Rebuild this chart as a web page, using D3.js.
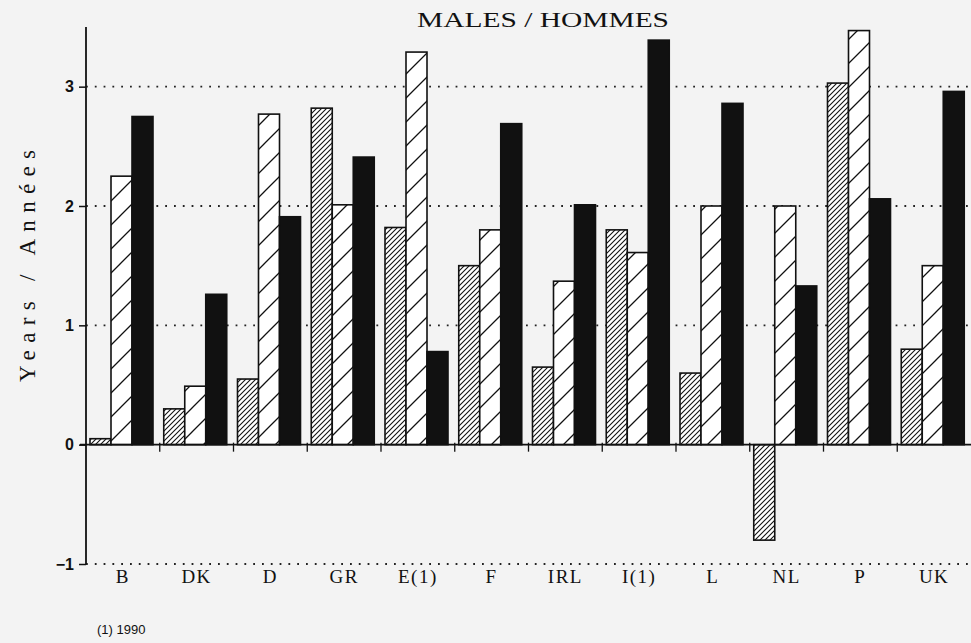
<!DOCTYPE html>
<html>
<head>
<meta charset="utf-8">
<script src="https://cdnjs.cloudflare.com/ajax/libs/d3/7.8.5/d3.min.js"></script>
<style>
  body { margin: 0; background: #f3f3f3; }
  svg { display: block; }
</style>
</head>
<body>
<div id="chart"></div>
<script>
var countries = ['B', 'DK', 'D', 'GR', 'E(1)', 'F', 'IRL', 'I(1)', 'L', 'NL', 'P', 'UK'];
var seriesDense = [0.05, 0.3, 0.55, 2.82, 1.82, 1.5, 0.65, 1.8, 0.6, -0.8, 3.03, 0.8];
var seriesSparse = [2.25, 0.49, 2.77, 2.01, 3.29, 1.8, 1.37, 1.61, 2.0, 2.0, 3.47, 1.5];
var seriesBlack = [2.75, 1.26, 1.91, 2.41, 0.78, 2.69, 2.01, 3.39, 2.86, 1.33, 2.06, 2.96];
var yTicks = [-1, 0, 1, 2, 3];

var chart_width = 971;
var chart_height = 643;
var font = '"Liberation Serif", "DejaVu Serif", serif';

var svg = d3.select('#chart')
  .append('svg')
  .attr('width', chart_width)
  .attr('height', chart_height);

// hatch patterns
var defs = svg.append('defs');
defs.append('pattern')
  .attr('id', 'dense')
  .attr('patternUnits', 'userSpaceOnUse')
  .attr('width', 5).attr('height', 5)
  .append('path')
  .attr('d', 'M-1,1 l2,-2 M0,5 l5,-5 M4,6 l2,-2')
  .attr('stroke', '#111').attr('stroke-width', 1.1);
defs.append('pattern')
  .attr('id', 'sparse')
  .attr('patternUnits', 'userSpaceOnUse')
  .attr('width', 24).attr('height', 24)
  .append('path')
  .attr('d', 'M-2,2 l4,-4 M0,24 l24,-24 M22,26 l4,-4')
  .attr('stroke', '#111').attr('stroke-width', 1.3);

// Scales
var xScale = d3.scaleBand()
  .domain(countries)
  .range([86, 971]);

var yScale = d3.scaleLinear()
  .domain([-1, 3.5])
  .range([564, 27]);

// gridlines
svg.selectAll('.grid')
  .data([-1, 1, 2, 3])
  .enter()
  .append('line')
  .attr('x1', 86).attr('x2', chart_width)
  .attr('y1', d => yScale(d)).attr('y2', d => yScale(d))
  .attr('stroke', '#222')
  .attr('stroke-width', 1.8)
  .attr('stroke-dasharray', '1.8,7');

// bars
var bw = 21;
var series = [
  { values: seriesDense, fill: 'url(#dense)', off: 4 },
  { values: seriesSparse, fill: 'url(#sparse)', off: 4 + bw },
  { values: seriesBlack, fill: '#111', off: 4 + 2 * bw }
];
series.forEach(function (s) {
  var g = svg.append('g');
  var solid = s.fill === '#111';
  // white base under hatching
  g.selectAll('rect.base')
    .data(s.values)
    .enter()
    .append('rect')
    .attr('x', (d, i) => xScale(countries[i]) + s.off)
    .attr('y', d => yScale(Math.max(d, 0)))
    .attr('width', bw)
    .attr('height', d => Math.abs(yScale(d) - yScale(0)))
    .attr('fill', solid ? '#111' : '#fff');
  g.selectAll('rect.top')
    .data(s.values)
    .enter()
    .append('rect')
    .attr('x', (d, i) => xScale(countries[i]) + s.off)
    .attr('y', d => yScale(Math.max(d, 0)))
    .attr('width', bw)
    .attr('height', d => Math.abs(yScale(d) - yScale(0)))
    .attr('fill', s.fill)
    .attr('stroke', '#111')
    .attr('stroke-width', 1.6);
});

// zero line with group ticks
svg.append('line')
  .attr('x1', 80).attr('x2', chart_width)
  .attr('y1', yScale(0)).attr('y2', yScale(0))
  .attr('stroke', '#111').attr('stroke-width', 1.8);
svg.selectAll('.gtick')
  .data(countries.slice(1))
  .enter()
  .append('line')
  .attr('x1', d => xScale(d)).attr('x2', d => xScale(d))
  .attr('y1', yScale(0) - 2).attr('y2', yScale(0) + 7)
  .attr('stroke', '#111').attr('stroke-width', 1.3);

// y axis
var yAxis = d3.axisLeft(yScale)
  .tickValues(yTicks)
  .tickSize(7)
  .tickPadding(5)
  .tickFormat(d3.format('d'));
var yg = svg.append('g')
  .attr('transform', 'translate(86,0)')
  .call(yAxis);
yg.select('.domain')
  .attr('d', 'M0,' + yScale(3.5) + 'V' + yScale(-1))
  .attr('stroke', '#111')
  .attr('stroke-width', 1.8);
yg.selectAll('.tick line').attr('stroke', '#111').attr('stroke-width', 1.5);
yg.selectAll('.tick text')
  .attr('font-family', '"Liberation Sans", Arial, sans-serif')
  .attr('font-size', 16)
  .attr('font-weight', 'bold')
  .attr('fill', '#111');

// x labels
svg.selectAll('.xlabel')
  .data(countries)
  .enter()
  .append('text')
  .attr('x', d => xScale(d) + xScale.bandwidth() / 2)
  .attr('y', 583)
  .attr('text-anchor', 'middle')
  .attr('font-family', font)
  .attr('font-size', 19)
  .attr('letter-spacing', 1.5)
  .attr('fill', '#111')
  .text(d => d);

// titles
svg.append('text')
  .attr('x', 543).attr('y', 27)
  .attr('text-anchor', 'middle')
  .attr('font-family', font)
  .attr('font-size', 22)
  .attr('textLength', 252)
  .attr('lengthAdjust', 'spacingAndGlyphs')
  .attr('fill', '#111')
  .text('MALES / HOMMES');

svg.append('text')
  .attr('transform', 'translate(35,266) rotate(-90)')
  .attr('text-anchor', 'middle')
  .attr('font-family', font)
  .attr('font-size', 23)
  .attr('textLength', 232)
  .attr('lengthAdjust', 'spacing')
  .attr('fill', '#111')
  .text('Years / Années');

svg.append('text')
  .attr('x', 97).attr('y', 634)
  .attr('font-family', '"Liberation Sans", Arial, sans-serif')
  .attr('font-size', 13)
  .attr('fill', '#111')
  .text('(1) 1990');
</script>
</body>
</html>
